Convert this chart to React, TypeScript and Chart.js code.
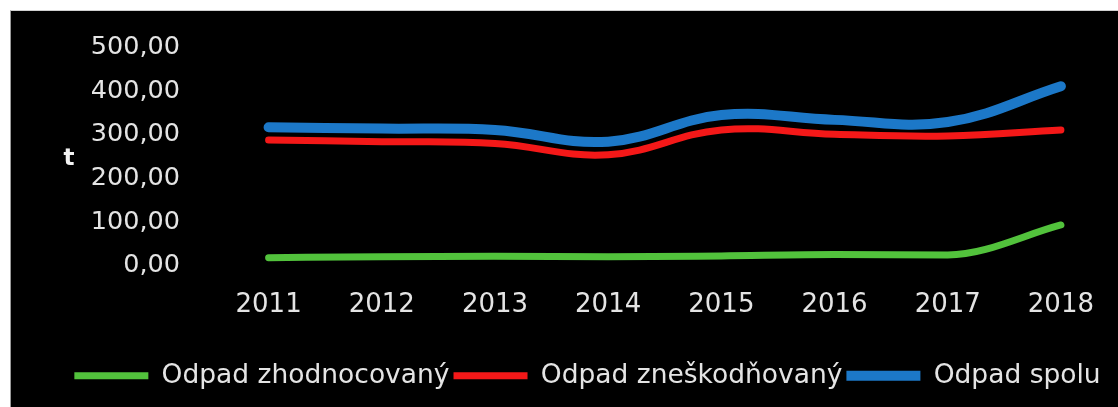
import React, { useEffect, useRef } from "react";
import { Chart, registerables } from "chart.js";

Chart.register(...registerables);

const years = ["2011", "2012", "2013", "2014", "2015", "2016", "2017", "2018"];
const zhodnocovany = [18, 20, 21, 20, 22, 25, 24, 93];
const zneskodnovany = [288, 284, 280, 254, 311, 301, 297, 311];
const spolu = [317, 314, 311, 284, 345, 334, 329, 411];
const seriesNames = ["Odpad zhodnocovaný", "Odpad zneškodňovaný", "Odpad spolu"];
const axisTitle = "t";

const FONT = "'DejaVu Sans', sans-serif";
const TEXT = "#e4e4e4";

const titlePlugin = {
  id: "yTitle",
  afterDraw(chart: any) {
    const { ctx, chartArea } = chart;
    ctx.save();
    ctx.fillStyle = "#f2f2f2";
    ctx.font = `bold 23px ${FONT}`;
    ctx.textAlign = "center";
    ctx.textBaseline = "middle";
    ctx.fillText(axisTitle, chartArea.left - 143, (chartArea.top + chartArea.bottom) / 2 + 3);
    ctx.restore();
  },
};

export default function App() {
  const ref = useRef<HTMLCanvasElement>(null);
  useEffect(() => {
    if (!ref.current) return;
    const chart = new Chart(ref.current, {
      type: "line",
      data: {
        labels: years,
        datasets: [
          { label: seriesNames[0], data: zhodnocovany, borderColor: "#52c23c", backgroundColor: "#52c23c", borderWidth: 7, borderCapStyle: "round", cubicInterpolationMode: "monotone", pointRadius: 0 },
          { label: seriesNames[1], data: zneskodnovany, borderColor: "#f41818", backgroundColor: "#f41818", borderWidth: 7, borderCapStyle: "round", tension: 0.4, pointRadius: 0 },
          { label: seriesNames[2], data: spolu, borderColor: "#1c78c8", backgroundColor: "#1c78c8", borderWidth: 10, borderCapStyle: "round", tension: 0.4, pointRadius: 0 },
        ],
      },
      options: {
        animation: false,
        responsive: false,
        layout: { padding: { left: 46, top: 36.5, right: 0, bottom: 8 } },
        scales: {
          x: {
            offset: true,
            afterFit: (scale: any) => { scale.height = 93; },
            grid: { display: false, drawTicks: false },
            border: { display: false },
            ticks: { color: TEXT, font: { family: FONT, size: 26 }, padding: 24, maxRotation: 0 },
          },
          y: {
            min: 0,
            max: 500,
            afterFit: (scale: any) => {
              scale.width = 155;
              scale.paddingTop = 16;
              scale.paddingBottom = 16;
            },
            grid: { display: false, drawTicks: false },
            border: { display: false },
            ticks: {
              stepSize: 100,
              color: TEXT,
              font: { family: FONT, size: 25.5 },
              padding: 32,
              callback: (v: any) => Number(v).toFixed(2).replace(".", ","),
            },
          },
        },
        plugins: {
          tooltip: { enabled: false },
          legend: {
            position: "bottom",
            labels: { color: TEXT, font: { family: FONT, size: 26.5 }, usePointStyle: true, pointStyle: "line", pointStyleWidth: 74, padding: 4 },
          },
        },
      },
      plugins: [titlePlugin],
    } as any);
    return () => chart.destroy();
  }, []);

  return (
    <div style={{ position: "fixed", left: 0, top: 0, width: 1118, height: 407, background: "#ffffff" }}>
      <div style={{ position: "absolute", left: 10, top: 10, width: 1108, height: 397, background: "#000000", borderLeft: "1px solid #9a9a9a", borderTop: "1px solid #d0d0d0", boxSizing: "border-box" }}>
        <canvas ref={ref} width={1107} height={396} />
      </div>
    </div>
  );
}
